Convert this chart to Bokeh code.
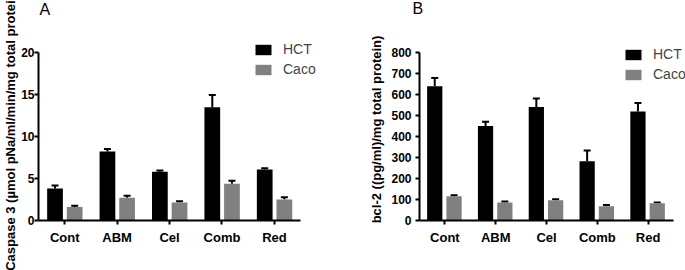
from bokeh.plotting import figure
from bokeh.layouts import row
from bokeh.models import (Range1d, Legend, LegendItem, Whisker, TeeHead,
                          ColumnDataSource, Title, FixedTicker)
from bokeh.embed import file_html
from bokeh.resources import INLINE

categories = ["Cont", "ABM", "Cel", "Comb", "Red"]
series = ["HCT", "Caco"]

# Panel A: Caspase 3
casp_hct = [3.8, 8.2, 5.8, 13.45, 6.05]
casp_hct_err = [4.15, 8.5, 5.95, 14.9, 6.2]
casp_caco = [1.6, 2.7, 2.15, 4.38, 2.5]
casp_caco_err = [1.75, 2.95, 2.3, 4.73, 2.77]

# Panel B: bcl-2
bcl_hct = [639, 450, 540, 282, 519]
bcl_hct_err = [678, 470, 581, 333, 559]
bcl_caco = [116, 86, 97, 68, 82]
bcl_caco_err = [120, 90, 101, 74, 86]

colors = ["#000000", "#808080"]
FONT = "Liberation Sans"


def make_panel(letter, ylabel, hct, hct_err, caco, caco_err, ymax, yticks,
               width, left, axis_px, frame_top, axis_top, bottom, spacer,
               offset_letter, leg_x, leg_y, offs, mls, als):
    n = len(categories)
    frame_w = width - left
    xmax = n * frame_w / axis_px
    frame_h = 270 - bottom - frame_top
    yaxis_h = 270 - bottom - axis_top
    yend = ymax * frame_h / yaxis_h
    p = figure(width=width, height=270, x_range=Range1d(0, xmax),
               y_range=Range1d(0, yend), output_backend="svg", toolbar_location=None,
               min_border_left=left, min_border_right=0,
               min_border_top=frame_top, min_border_bottom=bottom)
    p.outline_line_color = None
    p.grid.visible = False
    p.background_fill_color = "white"
    p.border_fill_color = "white"

    centers = [i + 0.5 for i in range(n)]
    src = ColumnDataSource(dict(
        xh=[c + offs[0] for c in centers], xc=[c + offs[1] for c in centers],
        hct=hct, hct_err=hct_err, caco=caco, caco_err=caco_err))
    r1 = p.vbar(x="xh", top="hct", width=0.3, source=src,
                fill_color=colors[0], line_color=None)
    r2 = p.vbar(x="xc", top="caco", width=0.3, source=src,
                fill_color=colors[1], line_color=None)
    for col, xc in (("hct", "xh"), ("caco", "xc")):
        w = Whisker(base=xc, lower=col, upper=col + "_err", source=src,
                    line_color="black", line_width=2,
                    upper_head=TeeHead(size=7, line_width=2, line_color="black"),
                    lower_head=None)
        p.add_layout(w)

    p.yaxis.ticker = FixedTicker(ticks=yticks)
    p.yaxis.bounds = (0, ymax)
    p.xaxis.ticker = FixedTicker(ticks=centers)
    p.xaxis.major_label_overrides = {c: name for c, name in zip(centers, categories)}
    p.xaxis.bounds = (0, n)
    for ax in (p.xaxis[0], p.yaxis[0]):
        ax.axis_line_width = 2
        ax.major_tick_line_width = 2
        ax.major_tick_out = 4
        ax.major_tick_in = 0
        ax.minor_tick_out = 0
        ax.minor_tick_in = 0
        ax.major_label_text_font = FONT
        ax.major_label_text_font_style = "bold"
        ax.major_label_text_color = "black"
        ax.axis_line_color = "black"
        ax.major_tick_line_color = "black"
    p.yaxis.major_label_text_font_size = "12px"
    p.yaxis.major_label_standoff = mls
    p.xaxis.major_label_text_font_size = "13px"
    p.xaxis.major_label_standoff = 5
    p.yaxis.axis_label = ylabel
    p.yaxis.axis_label_text_font = FONT
    p.yaxis.axis_label_text_font_style = "bold"
    p.yaxis.axis_label_text_font_size = "13px"
    p.yaxis.axis_label_text_color = "black"
    p.yaxis.axis_label_standoff = als

    # spacer (closest to frame), then panel letter above it
    p.add_layout(Title(text=" ", text_font_size="1px", standoff=spacer), "above")
    t = Title(text=letter, text_font=FONT, text_font_size="16px", text_font_style="normal",
              align="left", vertical_align="top", offset=offset_letter,
              text_color="black", standoff=-6)
    p.add_layout(t, "above")

    leg = Legend(items=[LegendItem(label=series[0], renderers=[r1]),
                        LegendItem(label=series[1], renderers=[r2])],
                 location=(leg_x, leg_y), orientation="vertical",
                 glyph_width=20, glyph_height=13, label_height=16, spacing=4,
                 padding=0, margin=0, border_line_color=None, background_fill_alpha=0,
                 label_text_font=FONT, label_text_font_size="14px", label_standoff=10)
    p.add_layout(leg, "center")
    return p


pA = make_panel("A", "Caspase 3 (µmol pNa/ml/min/mg total protein)",
                casp_hct, casp_hct_err, casp_caco, casp_caco_err, 20, [0, 5, 10, 15, 20],
                340, 37, 263, 35, 49, 49, 19, 1, 215, 143, (-0.185, 0.19), 0, 0)
pB = make_panel("B", "bcl-2 ((pg/ml)/mg total protein)",
                bcl_hct, bcl_hct_err, bcl_caco, bcl_caco_err, 800,
                [0, 100, 200, 300, 400, 500, 600, 700, 800],
                345, 79, 254, 38, 52, 50, 20, -7, 204, 138, (-0.2, 0.18), 4, 4)

layout = row(pA, pB)
open("out.html", "w").write(file_html(layout, INLINE))
